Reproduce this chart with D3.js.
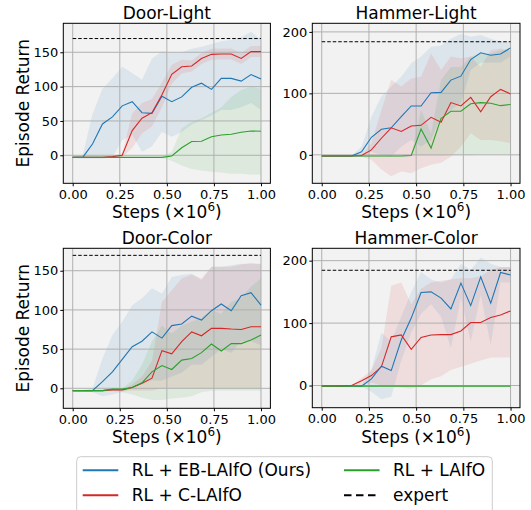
<!DOCTYPE html>
<html>
<head>
<script src="https://cdn.jsdelivr.net/npm/d3@7"></script>
<style>
  body { margin: 0; background: #fff; }
  text { font-family: "DejaVu Sans", sans-serif; fill: #000; }
</style>
</head>
<body>
<div id="chart"></div>
<script>
// training steps (x 1e6)
var steps = [0.00,0.053,0.105,0.158,0.211,0.263,0.316,0.368,0.421,0.474,0.526,0.579,0.632,0.684,0.737,0.789,0.842,0.895,0.947,1.00];
var xTicks = [0, 0.25, 0.5, 0.75, 1];

// Door-Light
var dlEB   = [-3,-3,16.5,45.6,56,72,78,62,61,86,78,85,99,105,96,112,112,108,117.5,111];
var dlEBhi = [-2,0,60,97,112,129,120,110,141,151,150,150,155,158,162,166,168,172,180,168];
var dlEBlo = [-4,-5,-5,-5,-3,22,30,5,13,34,27,34,45,51,58,66,66,70,76,66];
var dlC    = [-3,-3,-3,-3,-2,0,36,54,62,88,118,129,130,141,147,147.5,147.5,141,151,151];
var dlChi  = [-2,-2,-2,-2,-1,3,61,76,82,106,132,139,138,149,155,155.5,155.5,149,159,159];
var dlClo  = [-4,-4,-4,-4,-3,-3,11,32,42,70,104,119,122,133,139,139.5,139.5,133,143,143];
var dlL    = [-3,-3,-3,-3,-3,-3,-3,-3,-3,-3,-1,11,20,20.5,27,29.6,30.6,33.5,35.4,35];
var dlLhi  = [-2,-2,-2,-2,-2,-2,-2,-2,-2,-2,5,39,49,54,62,70,85,95,100,97];
var dlLlo  = [-4,-4,-4,-4,-4,-4,-4,-4,-4,-4,-8,-15,-20,-22,-24,-25,-27,-27,-28,-28];

// Hammer-Light
var hlEB   = [-2,-2,-2,-2,5,28.6,41.6,44,62,79.5,79.5,101,101.6,121.6,128,155,166,162,164,174];
var hlEBhi = [-1,-1,-1,-1,13,62,95,111,127,149,160,176,178,189,197,192,195,189,184,184];
var hlEBlo = [-3,-3,-3,-3,-3,5,0,-3,13,24,13,24,62,73,84,138,150,150,150,160];
var hlC    = [-2,-2,-2,-2,-1,8,27,44,38,47,48,61,53,85,79.5,93.5,70,94.6,106.5,99];
var hlChi  = [-1,-1,-1,-1,0,19,73,122,111,124,127,165,138,160,157,160,143,170,173,170];
var hlClo  = [-3,-3,-3,-3,-3,-8,-24,-35,-27,-30,-22,-16,-13,-3,13,35,24,24,22,19];
var hlL    = [-2,-2,-2,-2,-2,-2,-2,-2,-2,-1,42,11,59.5,71,71,83,85,84,80,82];
var hlLhi  = [-1,-1,-1,-1,-1,-1,-1,-1,-1,0,73,35,122,143,143,160,165,165,170,170];
var hlLlo  = [-3,-3,-3,-3,-3,-3,-3,-3,-3,-2,-2,-2,-2,-1,-1,-1,0,0,0,0];

// Door-Color
var dcEB   = [-3,-3,-3,8.5,21,37,53,60,72,64,80,82,92,87,99,107.5,99,118,122,106];
var dcEBhi = [-2,-2,0,38,68,85,106,115,127.5,121,142,144.5,146.6,138,155,155,157,159,159,159];
var dcEBlo = [-4,-4,-5,-10,-8,-5,0,5,10,10,15,20,30,30,40,50,45,60,60,55];
var dcC    = [-3,-3,-3,-3,-2,-2,1,6.4,13,48,44,59.5,72,67,76.5,76.5,75.6,75,78.6,78.6];
var dcChi  = [-2,-2,-2,-2,-1,-1,5,15,35,110,125,140,145,140,155,155,155,158,160,158];
var dcClo  = [-4,-4,-4,-4,-3,-3,-3,-3,-3,0,0,0,0,0,0,0,0,0,0,0];
var dcL    = [-3,-3,-3,-3,-1,-1,1,7,21,29,24,36,38,45.5,56.5,47.6,57,57,61.6,68];
var dcLhi  = [-2,-2,-2,-2,0,0,10,30,60,80,70,80,85,90,100,95,110,115,130,140];
var dcLlo  = [-4,-4,-4,-4,-3,-5,-8,-12,-15,-15,-13,-12,-10,-5,-3,-3,-3,-3,-3,-3];

// Hammer-Color
var hcEB   = [-1,-1,-1,-1,-1,10.7,31,24,73,108,149,150,140,122.7,164,128,174,132,181,177];
var hcEBhi = [-1,-1,-1,-1,0,25,85,70,110,150,182,170,165,170,195,185,205,195,190,190];
var hcEBlo = [-1,-1,-1,-1,-2,-10,-22,-18,40,85,115,130,110,60,140,70,145,65,165,165];
var hcC    = [-1,-1,-1,0,7.5,16,30,78,81,58,77,81,81.6,81.6,87.5,101,101,109,113,119.5];
var hcChi  = [-1,-1,-1,0,12,25,60,160,165,130,155,165,168,170,172,172,175,185,190,190];
var hcClo  = [-1,-1,-1,0,0,5,0,0,-3,-5,0,10,15,25,30,35,40,45,45,45];
var hcL    = [-1,-1,-1,-1,-1,-1,-1,-1,-1,-1,-1,-1,-1,-1,-1,-1,-1,-1,-1,-1];
var hcLhi  = [-0.5,-0.5,-0.5,-0.5,-0.5,-0.5,-0.5,-0.5,-0.5,-0.5,-0.5,-0.5,-0.5,-0.5,-0.5,-0.5,-0.5,-0.5,-0.5,-0.5];
var hcLlo  = [-1.5,-1.5,-1.5,-1.5,-1.5,-1.5,-1.5,-1.5,-1.5,-1.5,-1.5,-1.5,-1.5,-1.5,-1.5,-1.5,-1.5,-1.5,-1.5,-1.5];

var titles = ["Door-Light", "Hammer-Light", "Door-Color", "Hammer-Color"];
var expert = [170, 184, 169.6, 184.6];
var yLimits = [[-40.8, 192.2], [-46.3, 214], [-25.5, 178.6], [-35.5, 219.8]];
var yTicks = [[0, 50, 100, 150], [0, 100, 200], [0, 50, 100, 150], [0, 100, 200]];

var seriesNames = ["RL + EB-LAIfO (Ours)", "RL + C-LAIfO", "RL + LAIfO"];
var colors = ["#1f77b4", "#d62728", "#2ca02c"];

var panelData = [
  [[dlEB, dlEBlo, dlEBhi], [dlC, dlClo, dlChi], [dlL, dlLlo, dlLhi]],
  [[hlEB, hlEBlo, hlEBhi], [hlC, hlClo, hlChi], [hlL, hlLlo, hlLhi]],
  [[dcEB, dcEBlo, dcEBhi], [dcC, dcClo, dcChi], [dcL, dcLlo, dcLhi]],
  [[hcEB, hcEBlo, hcEBhi], [hcC, hcClo, hcChi], [hcL, hcLlo, hcLhi]]
];

var W = 531, H = 510;
var svg = d3.select("#chart").append("svg").attr("width", W).attr("height", H);

// panel boxes: left, top, width, height
var boxes = [
  [63.3, 23.3, 207.1, 160],
  [312.3, 23.3, 207.7, 160],
  [63.3, 248.3, 207.1, 160],
  [312.3, 248.3, 207.7, 159.4]
];

boxes.forEach(function(b, p) {
  var g = svg.append("g").attr("transform", "translate(" + b[0] + "," + b[1] + ")");
  var x = d3.scaleLinear().domain([-0.05, 1.05]).range([0, b[2]]);
  var y = d3.scaleLinear().domain(yLimits[p]).range([b[3], 0]);

  g.append("rect").attr("width", b[2]).attr("height", b[3]).attr("fill", "#f2f2f2");

  var clipId = "clip" + p;
  g.append("clipPath").attr("id", clipId).append("rect").attr("width", b[2]).attr("height", b[3]);
  var plot = g.append("g").attr("clip-path", "url(#" + clipId + ")");

  var area = d3.area()
    .x(function(d, i) { return x(steps[i]); })
    .y0(function(d) { return y(d[0]); })
    .y1(function(d) { return y(d[1]); });
  var line = d3.line()
    .x(function(d, i) { return x(steps[i]); })
    .y(function(d) { return y(d); });

  panelData[p].forEach(function(s, k) {
    var band = s[1].map(function(v, i) { return [v, s[2][i]]; });
    plot.append("path").attr("d", area(band))
      .attr("fill", colors[k]).attr("fill-opacity", 0.1).attr("stroke", "none");
  });

  // grid
  xTicks.forEach(function(t) {
    plot.append("line").attr("x1", x(t)).attr("x2", x(t)).attr("y1", 0).attr("y2", b[3])
      .attr("stroke", "#b0b0b0").attr("stroke-width", 1);
  });
  yTicks[p].forEach(function(t) {
    plot.append("line").attr("x1", 0).attr("x2", b[2]).attr("y1", y(t)).attr("y2", y(t))
      .attr("stroke", "#b0b0b0").attr("stroke-width", 1);
  });

  panelData[p].forEach(function(s, k) {
    plot.append("path").attr("d", line(s[0]))
      .attr("fill", "none").attr("stroke", colors[k]).attr("stroke-width", 1.1);
  });

  plot.append("line").attr("x1", x(0)).attr("x2", x(1))
    .attr("y1", y(expert[p])).attr("y2", y(expert[p]))
    .attr("stroke", "#000").attr("stroke-width", 1).attr("stroke-dasharray", "3.5,2");

  // axes
  var xAxis = g.append("g").attr("transform", "translate(0," + b[3] + ")")
    .call(d3.axisBottom(x).tickValues(xTicks).tickFormat(d3.format(".2f")).tickSizeOuter(0).tickSize(3).tickPadding(3));
  var yAxis = g.append("g")
    .call(d3.axisLeft(y).tickValues(yTicks[p]).tickFormat(d3.format("d")).tickSizeOuter(0).tickSize(3).tickPadding(2));
  [xAxis, yAxis].forEach(function(a) {
    a.select(".domain").remove();
    a.selectAll("text").style("font-family", "DejaVu Sans").style("font-size", "13px");
    a.selectAll("line").attr("stroke", "#000");
  });

  g.append("rect").attr("width", b[2]).attr("height", b[3])
    .attr("fill", "none").attr("stroke", "#000").attr("stroke-width", 1);

  g.append("text").attr("x", b[2] / 2).attr("y", -4.5).attr("text-anchor", "middle")
    .style("font-size", "17px").text(titles[p]);

  var xl = g.append("text").attr("x", b[2] / 2).attr("y", b[3] + 35).attr("text-anchor", "middle")
    .style("font-size", "17px");
  xl.append("tspan").text("Steps (\u00d710");
  xl.append("tspan").attr("dy", -7).style("font-size", "12px").text("6");
  xl.append("tspan").attr("dy", 7).text(")");

  if (p % 2 === 0) {
    g.append("text").attr("transform", "translate(" + (23 - b[0] + 6) + "," + (b[3] / 2) + ") rotate(-90)")
      .attr("text-anchor", "middle").style("font-size", "17px").text("Episode Return");
  }
});

// legend
var lg = svg.append("g").attr("transform", "translate(76.7,456.7)");
lg.append("rect").attr("width", 415.6).attr("height", 60).attr("rx", 4)
  .attr("fill", "#fff").attr("stroke", "#ccc").attr("stroke-width", 1);
var entries = [
  { name: seriesNames[0], color: colors[0], dash: null, col: 0, row: 0 },
  { name: seriesNames[1], color: colors[1], dash: null, col: 0, row: 1 },
  { name: seriesNames[2], color: colors[2], dash: null, col: 1, row: 0 },
  { name: "expert", color: "#000", dash: "7.5,4.5", col: 1, row: 1 }
];
var colX = [6, 267.3];
entries.forEach(function(e) {
  var ex = colX[e.col], ey = 13.5 + e.row * 25;
  lg.append("line").attr("x1", ex).attr("x2", ex + 35.6).attr("y1", ey).attr("y2", ey)
    .attr("stroke", e.color).attr("stroke-width", 2)
    .attr("stroke-dasharray", e.dash);
  lg.append("text").attr("x", ex + 49).attr("y", ey + 6).style("font-size", "17px").text(e.name);
});
</script>
</body>
</html>
